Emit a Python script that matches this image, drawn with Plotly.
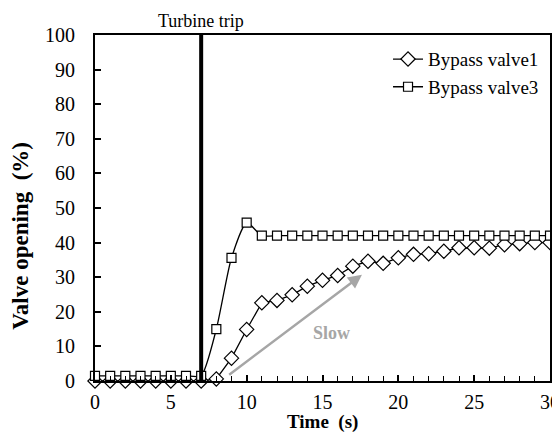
import plotly.graph_objects as go

time_s = list(range(0, 31))
valve1 = [0, 0, 0, 0, 0, 0, 0, 0, 0.6, 6.6, 14.9, 22.6, 23.3, 24.9, 27.4, 29.1, 30.5, 33.2,
          34.6, 34.0, 35.6, 36.6, 36.8, 37.5, 38.5, 38.5, 38.4, 39.4, 39.7, 40.0, 40.0]
valve3 = [1.5, 1.5, 1.5, 1.5, 1.5, 1.5, 1.5, 1.5, 15.0, 35.6, 45.8, 42.0, 42.0, 42.0, 42.0, 42.0,
          42.0, 42.0, 42.0, 42.0, 42.0, 42.0, 42.0, 42.0, 42.0, 42.0, 42.0, 42.0, 42.0, 42.0, 42.0]
trip_time = 7
arrow_start = (8.75, 1.5)
arrow_end = (17.6, 30.7)
x_ticks = [0, 5, 10, 15, 20, 25, 30]
y_ticks = list(range(0, 101, 10))

FONT = "Liberation Serif"

fig = go.Figure()
fig.add_trace(go.Scatter(
    x=time_s, y=valve1, name="Bypass valve1", mode="lines+markers",
    line=dict(color="black", width=1.3),
    marker=dict(symbol="diamond", size=11, color="white", line=dict(color="black", width=1.2)),
    cliponaxis=False,
))
fig.add_trace(go.Scatter(
    x=time_s, y=valve3, name="Bypass valve3", mode="lines+markers",
    line=dict(color="black", width=1.3, shape="spline", smoothing=0.6),
    marker=dict(symbol="square", size=9, color="white", line=dict(color="black", width=1.2)),
    cliponaxis=False,
))

fig.add_shape(type="line", x0=trip_time, x1=trip_time, y0=0, y1=100, xref="x", yref="y",
              line=dict(color="black", width=4))
fig.add_annotation(x=trip_time, y=100, xref="x", yref="y", text="Turbine trip", showarrow=False,
                   yshift=14, font=dict(family=FONT, size=18, color="black"))

fig.add_annotation(x=arrow_end[0], y=arrow_end[1], ax=arrow_start[0], ay=arrow_start[1],
                   xref="x", yref="y", axref="x", ayref="y", text="", showarrow=True,
                   arrowhead=2, arrowsize=1.1, arrowwidth=2.5, arrowcolor="#a6a6a6")
fig.add_annotation(x=15.6, y=13.9, xref="x", yref="y", text="<b>Slow</b>", showarrow=False,
                   font=dict(family=FONT, size=18, color="#a6a6a6"))

# axis titles
fig.add_annotation(x=0.5, y=0, xref="paper", yref="paper", yshift=-41, yanchor="middle",
                   text="<b>Time  (s)</b>", showarrow=False,
                   font=dict(family=FONT, size=19, color="black"))
fig.add_annotation(x=0, y=0.42, xref="paper", yref="paper", xshift=-74, xanchor="center",
                   text="<b>Valve opening  (%)</b>", showarrow=False, textangle=-90,
                   font=dict(family=FONT, size=23, color="black"))

fig.update_layout(
    width=552, height=426,
    margin=dict(l=87, r=10, t=27, b=53),
    paper_bgcolor="white", plot_bgcolor="white",
    font=dict(family=FONT, size=20, color="black"),
    showlegend=True,
    legend=dict(x=0.644, y=0.985, xanchor="left", yanchor="top", bgcolor="rgba(0,0,0,0)",
                font=dict(family=FONT, size=19), tracegroupgap=0),
    xaxis=dict(range=[0, 30], tickvals=x_ticks, showgrid=False, zeroline=False, automargin=False,
               showline=True, linecolor="black", linewidth=2, mirror=True,
               ticks="inside", ticklen=6, tickcolor="black", tickwidth=1.5, ticklabelstandoff=2,
               minor=dict(dtick=1, ticks="inside", ticklen=5, tickcolor="black", tickwidth=1.2)),
    yaxis=dict(range=[0, 100], tickvals=y_ticks, showgrid=False, zeroline=False, automargin=False,
               showline=True, linecolor="black", linewidth=2, mirror=True,
               ticks="inside", ticklen=6, tickcolor="black", tickwidth=1.5, ticklabelstandoff=14),
)

fig.write_html("out.html")
